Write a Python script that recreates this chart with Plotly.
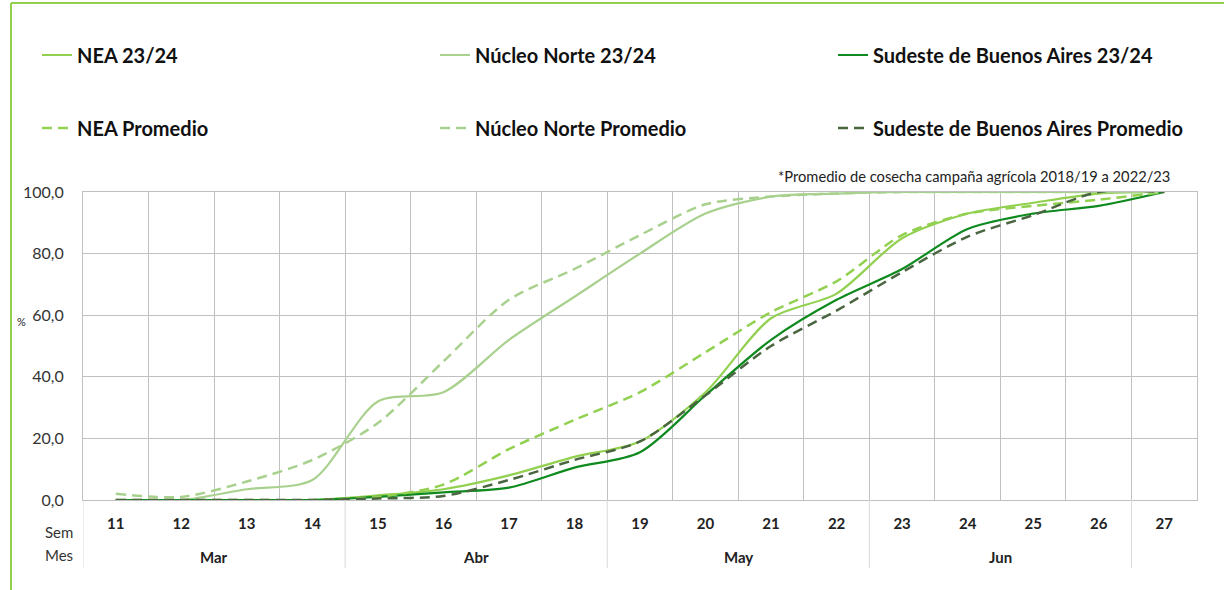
import plotly.graph_objects as go

weeks = [str(w) for w in range(11, 28)]
months = ["Mar", "Abr", "May", "Jun"]
month_weeks = [["11", "12", "13", "14"], ["15", "16", "17", "18"],
               ["19", "20", "21", "22"], ["23", "24", "25", "26"]]

nea_2324 = [0, 0, 0, 0, 1.5, 3.5, 8, 14, 19, 35, 59, 67, 85, 93, 96.5, 99.5, 100]
nn_2324 = [0, 0, 3.5, 6.5, 32, 35, 52, 66, 80, 93, 98.5, 99.5, 100, 100, 100, 100, 100]
sba_2324 = [0, 0, 0, 0, 1, 2.5, 4, 10.5, 15.5, 34, 52, 65, 75, 88, 93, 95.5, 100]
nea_prom = [0, 0, 0, 0, 1, 5, 16.5, 26, 35, 48, 61, 71, 86, 93, 95.5, 97.5, 100]
nn_prom = [2, 1, 6, 13, 25, 45, 65, 75, 86, 96, 98.5, 99.5, 100, 100, 100, 100, 100]
sba_prom = [0, 0, 0, 0, 0.5, 1.3, 6.5, 13, 19, 34, 50, 61.5, 74, 85.5, 92.5, 100, 100]

C_NEA = "#92d050"
C_NN = "#a9d18e"
C_SBA = "#0e8a1e"
C_SBAP = "#4a6641"

FONT = "Lato"
W, H = 1224, 590
L, R, T, B = 83, 1197, 192, 500
PW, PH = R - L, B - T

def px_x(x):
    return (x - L) / PW

def px_y(y):
    return (B - y) / PH

series = [
    ("NEA 23/24", nea_2324, C_NEA, "solid", "legend"),
    ("Núcleo Norte 23/24", nn_2324, C_NN, "solid", "legend"),
    ("Sudeste de Buenos Aires 23/24", sba_2324, C_SBA, "solid", "legend"),
    ("NEA Promedio", nea_prom, C_NEA, "10px,6px", "legend2"),
    ("Núcleo Norte Promedio", nn_prom, C_NN, "10px,6px", "legend2"),
    ("Sudeste de Buenos Aires Promedio", sba_prom, C_SBAP, "10px,6px", "legend2"),
]

fig = go.Figure()
for name, vals, col, dash, lg in series:
    fig.add_trace(go.Scatter(
        x=weeks, y=vals, name=name, mode="lines",
        line=dict(color=col, width=2.5 if dash != "solid" else 2.2, dash=dash,
                  shape="spline", smoothing=0.8),
        legend=lg,
    ))

grid = "#c0c0c0"
fig.update_xaxes(
    type="category", categoryorder="array", categoryarray=weeks,
    range=[-0.5, len(weeks) - 0.5],
    tickson="boundaries", showgrid=True, gridcolor=grid, gridwidth=1,
    ticks="", showline=True, linecolor=grid, mirror=True,
    tickfont=dict(family=FONT, size=15, color="#222", weight=700),
    ticklabelstandoff=10,
)
fig.update_yaxes(
    range=[0, 100], dtick=20, tickformat=".1f", showgrid=True, gridcolor=grid,
    zeroline=False, showline=True, linecolor=grid, mirror=True, ticks="",
    tickfont=dict(family=FONT, size=16, color="#333"),
    ticklabelstandoff=15,
)

leg_common = dict(
    orientation="h", xanchor="left", yanchor="middle",
    font=dict(family=FONT, size=20, color="#111", weight=700),
    entrywidth=353, entrywidthmode="pixels", itemwidth=30,
    bgcolor="rgba(0,0,0,0)", tracegroupgap=0,
)

annotations = [
    dict(text="*Promedio de cosecha campaña agrícola 2018/19 a 2022/23",
         x=px_x(1172), y=px_y(176), xref="paper", yref="paper",
         xanchor="right", yanchor="middle", showarrow=False,
         font=dict(family=FONT, size=14.7, color="#222")),
    dict(text="%", x=px_x(21), y=px_y(321), xref="paper", yref="paper",
         xanchor="center", yanchor="middle", showarrow=False,
         font=dict(family=FONT, size=11, color="#222")),
    dict(text="Sem", x=px_x(75), y=px_y(532), xref="paper", yref="paper",
         xanchor="right", yanchor="middle", showarrow=False,
         font=dict(family=FONT, size=15, color="#333")),
    dict(text="Mes", x=px_x(75), y=px_y(555), xref="paper", yref="paper",
         xanchor="right", yanchor="middle", showarrow=False,
         font=dict(family=FONT, size=15, color="#333")),
]
for m, wk in zip(months, month_weeks):
    i0 = weeks.index(wk[0])
    i1 = weeks.index(wk[-1])
    annotations.append(dict(
        text=m, x=(i0 + i1) / 2, xref="x", y=px_y(557), yref="paper",
        xanchor="center", yanchor="middle", showarrow=False,
        font=dict(family=FONT, size=15, color="#222", weight=700)))

shapes = []
bounds = [-0.5] + [weeks.index(wk[-1]) + 0.5 for wk in month_weeks]
for b in bounds:
    shapes.append(dict(type="line", xref="x", yref="paper", x0=b, x1=b,
                       y0=0, y1=px_y(568), line=dict(color="#d9d9d9", width=1)))
# green frame
shapes.append(dict(type="line", xref="paper", yref="paper",
                   x0=px_x(11), x1=px_x(1224), y0=px_y(3), y1=px_y(3),
                   line=dict(color=C_NEA, width=2)))
shapes.append(dict(type="line", xref="paper", yref="paper",
                   x0=px_x(11), x1=px_x(11), y0=px_y(3), y1=px_y(590),
                   line=dict(color=C_NEA, width=2)))

fig.update_layout(
    width=W, height=H,
    margin=dict(l=L, r=W - R, t=T, b=H - B, autoexpand=False),
    paper_bgcolor="white", plot_bgcolor="white",
    font=dict(family=FONT),
    separators=",.",
    legend=dict(x=px_x(37), y=px_y(55), **leg_common),
    legend2=dict(x=px_x(37), y=px_y(128), **leg_common),
    annotations=annotations,
    shapes=shapes,
)

fig.write_html("out.html", config={"displayModeBar": False},
               post_script="document.body.style.margin='0';document.body.style.overflow='hidden';")
